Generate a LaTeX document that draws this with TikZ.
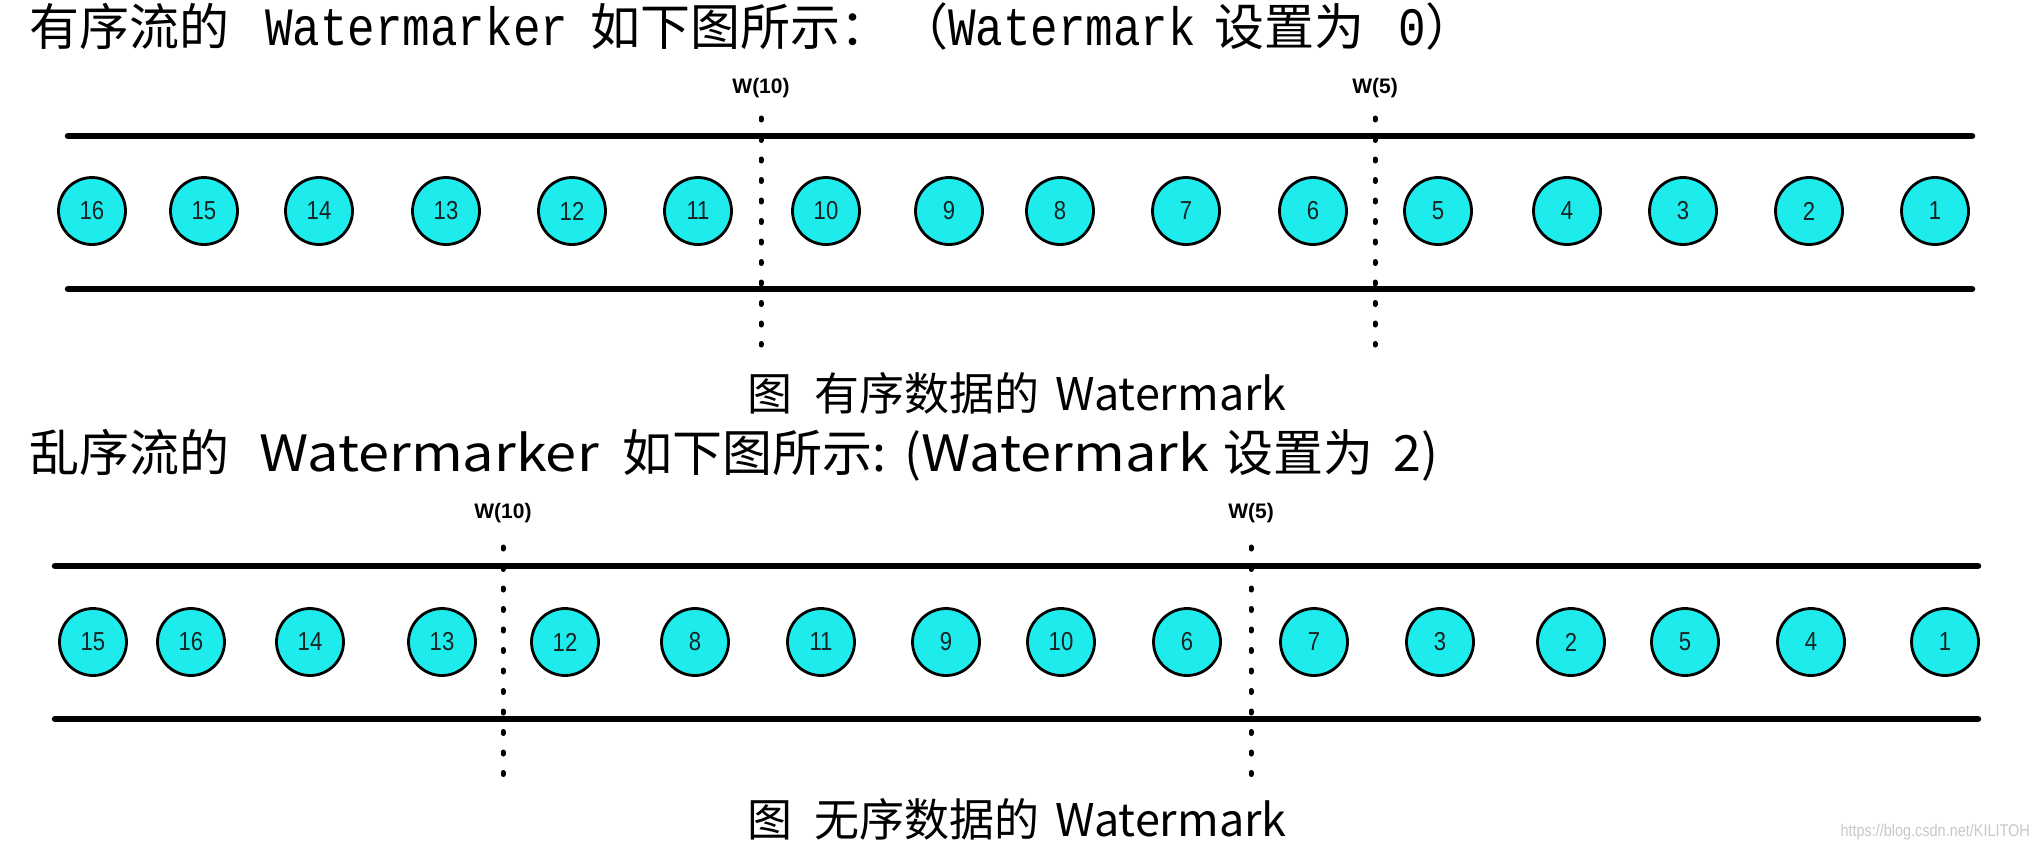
\documentclass[tikz,border=0pt]{standalone}
\usepackage{fontspec}
\usepackage{graphicx}
\setmainfont{Liberation Sans}
\newfontfamily\cjk{Noto Sans CJK SC}
\newfontfamily\monoL{Liberation Mono}
\definecolor{evcyan}{RGB}{30,236,236}
\definecolor{numcol}{RGB}{25,35,35}
\definecolor{urlgray}{RGB}{200,200,200}
\newcommand\tla[1]{\scalebox{0.85}[1]{\monoL\fontsize{54}{60}\selectfont #1}}
\newcommand\tlb[1]{\scalebox{1.12}[1]{#1}}
\newcommand\evnum[1]{\scalebox{0.85}[1]{#1}}
\begin{document}
\begin{tikzpicture}[x=1pt,y=-1pt,
  ev/.style={circle, draw=black, line width=2.8pt, fill=evcyan, minimum size=67pt, inner sep=0pt,
             text=numcol, font=\fontsize{26}{28}\selectfont},
  rail/.style={line width=6.5pt, line cap=round},
  wmline/.style={line width=5pt, line cap=round, dash pattern=on 2pt off 18.5pt},
  wlab/.style={font=\bfseries\fontsize{21}{23}\selectfont, inner sep=0pt},
  ttl/.style={anchor=west, inner sep=0pt, font=\cjk\fontsize{50}{60}\selectfont},
  captext/.style={inner sep=0pt, font=\cjk\fontsize{45}{54}\selectfont}]
\useasboundingbox[fill=white] (0,0) rectangle (2039,851);

% ---------- titles ----------
\node[ttl] (t1) at (29,27) {有序流的\hspace{36pt}\tla{Watermarker}\hspace{22pt}如下图所示：\hspace{8pt}（\tla{Watermark}\hspace{18pt}设置为\hspace{34pt}\tla{0}）};
\node[ttl] (t2) at (29,455) {乱序流的\hspace{30pt}\tlb{Watermarker}\hspace{24pt}如下图所示:\hspace{18pt}(\tlb{Watermark}\hspace{14pt}设置为\hspace{20pt}2)};

% ---------- row 1 ----------
\coordinate (r1tl) at (68,136);  \coordinate (r1tr) at (1972,136);
\coordinate (r1bl) at (68,289);  \coordinate (r1br) at (1972,289);
\draw[rail] (r1tl) -- (r1tr);
\draw[rail] (r1bl) -- (r1br);
\foreach \n/\x in {16/92,15/204,14/319,13/446,12/572,11/698,10/826,9/949,8/1060,7/1186,6/1313,5/1438,4/1567,3/1683,2/1809,1/1935}
  \node[ev] (a\n) at (\x,211) {\evnum{\n}};
\node[wlab] (w10a) at (761,88) {W(10)};
\node[wlab] (w5a) at (1375,88) {W(5)};
\coordinate (d10a) at (761,118); \coordinate (e10a) at (761,345);
\coordinate (d5a) at (1375,118); \coordinate (e5a) at (1375,345);
\draw[wmline] (d10a) -- (e10a);
\draw[wmline] (d5a) -- (e5a);
\node[captext] (c1) at (1017,393) {图\hspace{22pt}有序数据的\hspace{16pt}Watermark};

% ---------- row 2 ----------
\coordinate (r2tl) at (55,566);  \coordinate (r2tr) at (1978,566);
\coordinate (r2bl) at (55,719);  \coordinate (r2br) at (1978,719);
\draw[rail] (r2tl) -- (r2tr);
\draw[rail] (r2bl) -- (r2br);
\foreach \n/\x in {15/93,16/191,14/310,13/442,12/565,8/695,11/821,9/946,10/1061,6/1187,7/1314,3/1440,2/1571,5/1685,4/1811,1/1945}
  \node[ev] (b\n) at (\x,642) {\evnum{\n}};
\node[wlab] (w10b) at (503,513) {W(10)};
\node[wlab] (w5b) at (1251,513) {W(5)};
\coordinate (d10b) at (503,547); \coordinate (e10b) at (503,775);
\coordinate (d5b) at (1251,547); \coordinate (e5b) at (1251,775);
\draw[wmline] (d10b) -- (e10b);
\draw[wmline] (d5b) -- (e5b);
\node[captext] (c2) at (1017,819) {图\hspace{22pt}无序数据的\hspace{16pt}Watermark};

\node[anchor=east, inner sep=0pt, text=urlgray, font=\fontsize{17}{20}\selectfont] (url) at (2030,832) {\scalebox{0.85}[1]{https://blog.csdn.net/KILITOH}};
\end{tikzpicture}
\end{document}
